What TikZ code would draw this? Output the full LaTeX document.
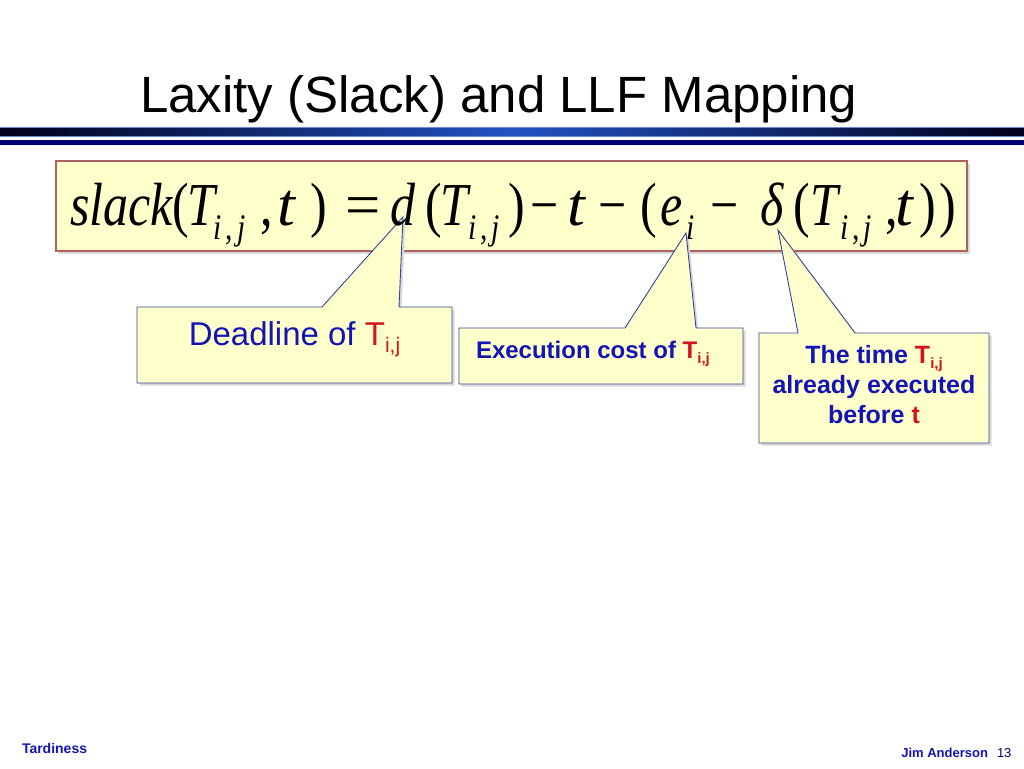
\documentclass[tikz,border=0pt]{standalone}
\usepackage{fontspec}
\setmainfont{Liberation Sans}
\newfontfamily\tms{Liberation Serif}
\usepackage{graphicx}
\usetikzlibrary{calc}
\definecolor{slideyellow}{HTML}{FFFFCC}
\definecolor{fboxborder}{HTML}{B06060}
\definecolor{calloutborder}{HTML}{34449A}
\definecolor{txtblue}{HTML}{1414B4}
\definecolor{txtred}{HTML}{D2141E}
\definecolor{bardark}{HTML}{00001A}
\definecolor{barmid}{HTML}{2252C2}
\definecolor{barlight}{HTML}{6A8AD8}
\definecolor{barnavy}{HTML}{00006E}
\pgfdeclarelayer{bg}\pgfdeclarelayer{bgtwo}\pgfsetlayers{bg,bgtwo,main}
\newcommand\fgl[2]{\rlap{\hspace*{#1pt}\scalebox{0.82}[1]{#2}}}
\newcommand\fgt[1]{\rlap{\hspace*{#1pt}\scalebox{1.05}[1]{\itshape t}}}
\newcommand\fsub[1]{\raisebox{-14pt}{\fontsize{36}{36}\selectfont #1}}
\newcommand\calloutshape[4]{(#1.north west) -- (#1.north west -| #2) -- (#3) -- (#1.north west -| #4) -- (#1.north east) -- (#1.south east) -- (#1.south west) -- cycle}
\newcommand\tsub[1]{\raisebox{-5pt}{\fontsize{15}{15}\selectfont #1}}
\tikzset{
  cbox/.style={rectangle, inner sep=0pt, outer sep=0pt},
  callout/.style={fill=slideyellow, draw=calloutborder, line width=0.9pt, line join=miter},
  cshadow/.style={fill=black!15},
  fboxstyle/.style={rectangle, inner sep=0pt, outer sep=0pt, fill=slideyellow, draw=fboxborder, line width=1.2pt},
  txt/.style={inner sep=0pt, outer sep=0pt, text=txtblue},
}
\begin{document}
\begin{tikzpicture}[x=1pt, y=-1pt]
\useasboundingbox (0,0) rectangle (1024,768);
% formula box (background)
\begin{pgfonlayer}{bg}
  \fill[white] (0,0) rectangle (1024,768);
  \fill[black!15] (58.5,163.5) rectangle (969.5,253.5);
  \node[fboxstyle, minimum width=911pt, minimum height=90pt] (fbox) at (511.5,206) {};
\end{pgfonlayer}
% title
\node[anchor=base west, inner sep=0pt, font=\fontsize{51}{51}\selectfont] (title) at (140,112) {Laxity (Slack) and LLF Mapping};
% bars
\shade[left color=bardark, right color=bardark, middle color=barmid] (0,127) rectangle (1024,136);
\draw[barlight, line width=0.6pt] (0,127) -- (1024,127) (0,136) -- (1024,136);
\fill[barnavy] (0,140) rectangle (1024,144.5);
% formula
\node[anchor=base west, inner sep=0pt] (formula) at (70,225) {\tms\fontsize{61}{61}\selectfont
\fgl{0}{\itshape slack}\fgl{102}{(}\fgl{117}{\itshape T}\fgl{143}{\fsub{\itshape i}}\fgl{155}{\fsub{,}}\fgl{167}{\fsub{\itshape j}}\fgl{190}{,}\fgt{207}\fgl{240}{)}\fgl{275}{\scalebox{1.25}[1]{=}}\fgl{320}{\itshape d}\fgl{355}{(}\fgl{370}{\itshape T}\fgl{398}{\fsub{\itshape i}}\fgl{410}{\fsub{,}}\fgl{421}{\fsub{\itshape j}}\fgl{438}{)}\fgl{460}{−}\fgt{497}\fgl{528}{−}\fgl{570}{(}\fgl{590}{\itshape e}\fgl{616}{\fsub{\itshape i}}\fgl{640}{−}\fgl{690}{\itshape δ}\fgl{723}{(}\fgl{740}{\itshape T}\fgl{770}{\fsub{\itshape i}}\fgl{782}{\fsub{,}}\fgl{793}{\fsub{\itshape j}}\fgl{815}{,}\fgt{825}\fgl{849}{)}\fgl{869}{)}\hspace*{888pt}};
% callout geometry
\node[cbox, minimum width=315pt, minimum height=76pt] (c1) at (294.5,345) {};
\node[cbox, minimum width=284pt, minimum height=56pt] (c2) at (601,356) {};
\node[cbox, minimum width=230pt, minimum height=110pt] (c3) at (874,388) {};
\coordinate (a1) at (403,217); \coordinate (p1l) at (322,0); \coordinate (p1r) at (399,0);
\coordinate (a2) at (686,233); \coordinate (p2l) at (625,0); \coordinate (p2r) at (696,0);
\coordinate (a3) at (778,230); \coordinate (p3l) at (798,0); \coordinate (p3r) at (855,0);
\begin{pgfonlayer}{bgtwo}
  \path[cshadow, transform canvas={shift={(2.5pt,-2.5pt)}}] \calloutshape{c1}{p1l}{a1}{p1r};
  \path[cshadow, transform canvas={shift={(2.5pt,-2.5pt)}}] \calloutshape{c2}{p2l}{a2}{p2r};
  \path[cshadow, transform canvas={shift={(2.5pt,-2.5pt)}}] \calloutshape{c3}{p3l}{a3}{p3r};
  \path[callout] \calloutshape{c1}{p1l}{a1}{p1r};
  \path[callout] \calloutshape{c2}{p2l}{a2}{p2r};
  \path[callout] \calloutshape{c3}{p3l}{a3}{p3r};
\end{pgfonlayer}
% callout texts
\node[txt, anchor=base, font=\fontsize{33}{33}\selectfont] (t1) at (294.5,345) {Deadline of \textcolor{txtred}{T\raisebox{-7pt}{\fontsize{21}{21}\selectfont i,j}}};
\node[txt, anchor=base west, font=\bfseries\fontsize{24}{24}\selectfont] (t2) at (476,358) {Execution cost of \textcolor{txtred}{T\tsub{i,j}}};
\node[txt, anchor=base, font=\bfseries\fontsize{25}{25}\selectfont] (t3a) at (874,363) {The time \textcolor{txtred}{T\tsub{i,j}}};
\node[txt, anchor=base, font=\bfseries\fontsize{25}{25}\selectfont] (t3b) at (874,393) {already executed};
\node[txt, anchor=base, font=\bfseries\fontsize{25}{25}\selectfont] (t3c) at (874,423) {before \textcolor{txtred}{t}};
% footer
\node[txt, anchor=base west, font=\bfseries\fontsize{14}{14}\selectfont] (foot1) at (22,753) {Tardiness};
\node[txt, anchor=base east, font=\bfseries\fontsize{13}{13}\selectfont] (foot2) at (988,757) {Jim Anderson};
\node[txt, anchor=base west, font=\fontsize{13}{13}\selectfont, text=barnavy] (foot3) at (997,757) {13};
\end{tikzpicture}
\end{document}
